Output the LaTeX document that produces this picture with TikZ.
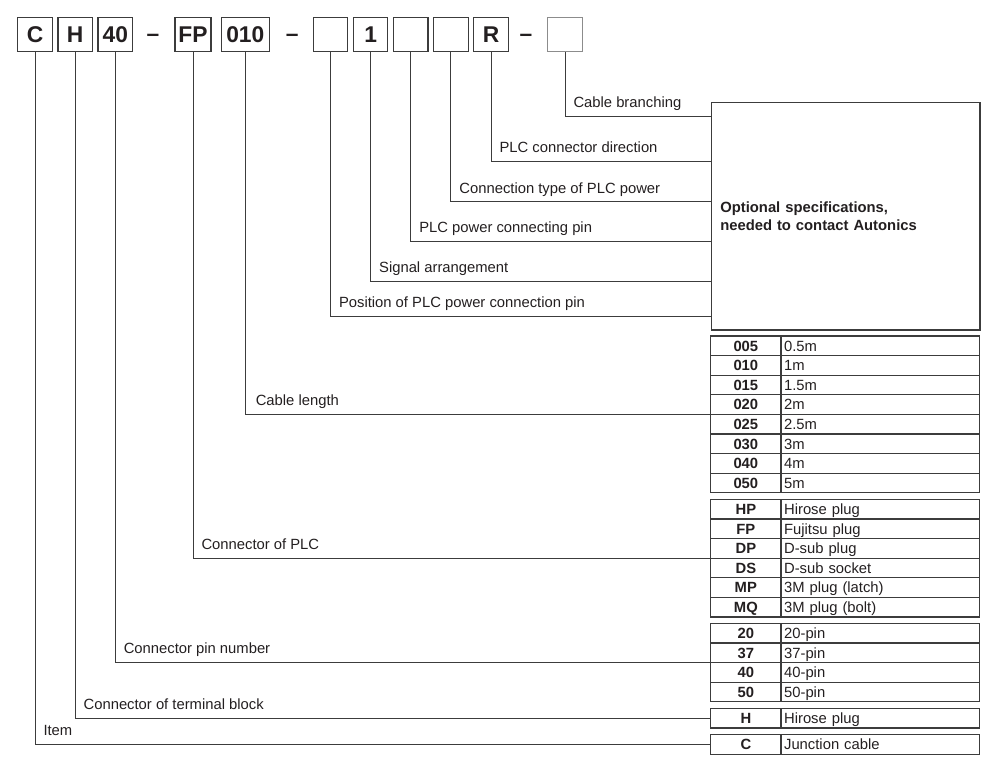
\documentclass[tikz,border=0pt]{standalone}
\usepackage{fontspec}
\setmainfont{Liberation Sans}
\usetikzlibrary{positioning}
\definecolor{ink}{RGB}{35,31,32}
\definecolor{rulegray}{RGB}{60,60,60}
\newcommand{\lblfont}{\fontsize{11.1}{14}\selectfont}
\newcommand{\codefont}{\fontsize{17.1}{20}\selectfont\bfseries}

\begin{document}
\begin{tikzpicture}[x=0.75pt,y=-0.75pt,
    codebox/.style={draw=rulegray,line width=0.9pt,minimum width=25.8pt,minimum height=25.8pt,inner sep=0pt,font=\codefont,text=ink},
    dashmark/.style={font=\codefont,text=ink,inner sep=0pt},
    lead/.style={draw=rulegray,line width=0.75pt},
    lbl/.style={anchor=base west,xshift=6pt,yshift=6.5pt,inner sep=0pt,font=\lblfont,text=ink},
    codecell/.style={draw=rulegray,line width=0.9pt,outer sep=0pt,anchor=north west,minimum width=52.7pt,minimum height=14.7pt,inner sep=0pt,text height=9.5pt,text depth=1.5pt,font=\lblfont\bfseries,text=ink},
    desccell/.style={draw=rulegray,line width=0.9pt,outer sep=0pt,minimum height=14.7pt,text width=144pt,inner xsep=2.35pt,inner ysep=0pt,align=left,text height=9.5pt,text depth=1.5pt,font=\lblfont,text=ink}]
  \useasboundingbox (0,0) rectangle (994,768);

  % model code
  \node[codebox] (bC) at (35,34.5) {C};
  \node[codebox,right=3.4pt of bC] (bH) {H};
  \node[codebox,right=3.4pt of bH] (b40) {40};
  \node[dashmark] (d1) at (153,37.5) {--};
  \node[codebox,minimum width=27pt] (bFP) at (193,34.5) {FP};
  \node[codebox,minimum width=36pt] (b010) at (245.3,34.5) {010};
  \node[dashmark] (d2) at (292.3,37.5) {--};
  \node[codebox] (bPos) at (330.5,34.5) {};
  \node[codebox,right=3.4pt of bPos] (bSig) {1};
  \node[codebox,right=3.4pt of bSig] (bPin) {};
  \node[codebox,right=3.4pt of bPin] (bType) {};
  \node[codebox,right=3.4pt of bType] (bDir) {R};
  \node[dashmark] (d3) at (526,37.5) {--};
  \node[codebox,draw=black!45] (bBr) at (565,34.5) {};

  % optional specs
  \node[draw=rulegray,line width=0.9pt,anchor=north west,minimum height=170.7pt,text width=188pt,inner xsep=6.75pt,align=left,font=\lblfont\bfseries,text=ink] (opt) at (710.7,101.7) {Optional specifications,\\needed to contact Autonics};
  \coordinate (o1) at (opt.west |- 0,116);
  \coordinate (o2) at (opt.west |- 0,161);
  \coordinate (o3) at (opt.west |- 0,201.7);
  \coordinate (o4) at (opt.west |- 0,241.3);
  \coordinate (o5) at (opt.west |- 0,281.5);
  \coordinate (o6) at (opt.west |- 0,316.5);
  \draw[lead] (bBr.south) |- (o1) node[pos=0.5,lbl] (l-br) {Cable branching};
  \draw[lead] (bDir.south) |- (o2) node[pos=0.5,lbl] (l-dir) {PLC connector direction};
  \draw[lead] (bType.south) |- (o3) node[pos=0.5,lbl] (l-type) {Connection type of PLC power};
  \draw[lead] (bPin.south) |- (o4) node[pos=0.5,lbl] (l-pin) {PLC power connecting pin};
  \draw[lead] (bSig.south) |- (o5) node[pos=0.5,lbl] (l-sig) {Signal arrangement};
  \draw[lead] (bPos.south) |- (o6) node[pos=0.5,lbl] (l-pos) {Position of PLC power connection pin};

  % tables
  \foreach \c/\d [count=\i] in {005/0.5m,010/1m,015/1.5m,020/2m,025/2.5m,030/3m,040/4m,050/5m}{
    \node[codecell] (len-\i) at (710.7,{336+19.6*(\i-1)}) {\c};
    \node[desccell,right=0pt of len-\i] (len-\i-d) {\d};
  }
  \foreach \c/\d [count=\i] in {HP/Hirose plug,FP/Fujitsu plug,DP/D-sub plug,DS/D-sub socket,MP/3M plug (latch),MQ/3M plug (bolt)}{
    \node[codecell] (plc-\i) at (710.7,{499.3+19.6*(\i-1)}) {\c};
    \node[desccell,right=0pt of plc-\i] (plc-\i-d) {\d};
  }
  \foreach \c/\d [count=\i] in {20/20-pin,37/37-pin,40/40-pin,50/50-pin}{
    \node[codecell] (pins-\i) at (710.7,{623.3+19.6*(\i-1)}) {\c};
    \node[desccell,right=0pt of pins-\i] (pins-\i-d) {\d};
  }
  \node[codecell] (term) at (710.7,708.3) {H};
  \node[desccell,right=0pt of term] (term-d) {Hirose plug};
  \node[codecell] (item) at (710.7,734.5) {C};
  \node[desccell,right=0pt of item] (item-d) {Junction cable};

  \draw[lead] (b010.south) |- (len-4.south west) node[pos=0.5,lbl,xshift=1.5pt] (l-len) {Cable length};
  \draw[lead] (bFP.south) |- (plc-3.south west) node[pos=0.5,lbl] (l-plc) {Connector of PLC};
  \draw[lead] (b40.south) |- (pins-2.south west) node[pos=0.5,lbl] (l-pins) {Connector pin number};
  \draw[lead] (bH.south) |- (term.west) node[pos=0.5,lbl] (l-term) {Connector of terminal block};
  \draw[lead] (bC.south) |- (item.west) node[pos=0.5,lbl] (l-item) {Item};
\end{tikzpicture}
\end{document}
